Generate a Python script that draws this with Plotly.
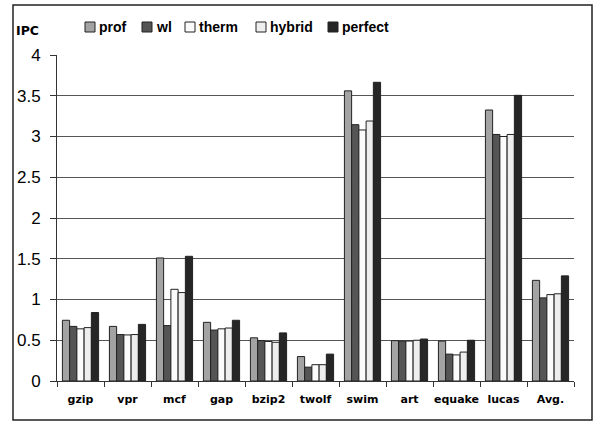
import plotly.graph_objects as go

# Benchmarks on the x axis
benchmarks = ["gzip", "vpr", "mcf", "gap", "bzip2", "twolf", "swim", "art", "equake", "lucas", "Avg."]

# IPC per scheme
prof = [0.745, 0.67, 1.51, 0.72, 0.53, 0.30, 3.56, 0.495, 0.49, 3.325, 1.235]
wl = [0.67, 0.57, 0.68, 0.625, 0.495, 0.17, 3.145, 0.49, 0.33, 3.025, 1.02]
therm = [0.64, 0.565, 1.125, 0.64, 0.485, 0.20, 3.08, 0.49, 0.32, 3.00, 1.06]
hybrid = [0.655, 0.57, 1.085, 0.65, 0.475, 0.20, 3.19, 0.50, 0.355, 3.025, 1.07]
perfect = [0.84, 0.695, 1.53, 0.745, 0.59, 0.33, 3.665, 0.515, 0.50, 3.505, 1.29]

series_names = ["prof", "wl", "therm", "hybrid", "perfect"]
series_values = [prof, wl, therm, hybrid, perfect]
series_colors = ["#a3a3a3", "#555555", "#fbfbfb", "#eeeeee", "#262626"]

W, H = 596, 422
ML, MR, MT, MB = 57, 22, 55, 41
PW, PH = W - ML - MR, H - MT - MB


def px_x(px):
    return (px - ML) / PW


def px_y(py):
    return (H - MB - py) / PH


fig = go.Figure()
for name, vals, col in zip(series_names, series_values, series_colors):
    fig.add_trace(go.Bar(
        name=name, x=benchmarks, y=vals,
        marker=dict(color=col, line=dict(color="#222222", width=1)),
        showlegend=False,
    ))

shapes = []
annotations = []

# outer frame
shapes.append(dict(type="rect", xref="paper", yref="paper",
                   x0=px_x(13), x1=px_x(592), y0=px_y(420), y1=px_y(5),
                   line=dict(color="#222222", width=1.5), fillcolor="rgba(0,0,0,0)"))

# legend row
legend_left = [85, 142, 185, 256, 328]
legend_y = px_y(27)
for name, col, lx in zip(series_names, series_colors, legend_left):
    shapes.append(dict(type="rect", xref="paper", yref="paper",
                       xsizemode="pixel", ysizemode="pixel",
                       xanchor=px_x(lx), yanchor=legend_y,
                       x0=0, x1=10, y0=-5, y1=5,
                       line=dict(color="#222222", width=1), fillcolor=col))
    annotations.append(dict(xref="paper", yref="paper", x=px_x(lx + 12), y=legend_y,
                            text="<b>%s</b>" % name, showarrow=False,
                            xanchor="left", yanchor="middle",
                            font=dict(family="Liberation Sans", size=14, color="#000")))

# y axis title
annotations.append(dict(xref="paper", yref="paper", x=px_x(14), y=px_y(31),
                        text="<b>IPC</b>", showarrow=False, xanchor="left", yanchor="middle",
                        font=dict(family="DejaVu Sans", size=12.5, color="#000")))

fig.update_layout(
    width=W, height=H,
    margin=dict(l=ML, r=MR, t=MT, b=MB),
    paper_bgcolor="white", plot_bgcolor="white",
    barmode="group", bargap=0.23, bargroupgap=0,
    shapes=shapes, annotations=annotations,
    xaxis=dict(
        type="category", tickson="boundaries", ticks="outside", ticklen=5,
        tickcolor="#333", showline=True, linecolor="#333", linewidth=1,
        showgrid=False, ticklabelstandoff=8, tickangle=0, automargin=False,
        tickfont=dict(family="DejaVu Sans", size=11, color="#000", weight="bold"),
    ),
    yaxis=dict(
        range=[0, 4], dtick=0.5, ticks="outside", ticklen=6, tickcolor="#333",
        showline=True, linecolor="#333", linewidth=1,
        showgrid=True, gridcolor="#555555", gridwidth=1, zeroline=False,
        ticklabelstandoff=6, automargin=False,
        tickfont=dict(family="Liberation Sans", size=17, color="#000"),
    ),
)

fig.write_html("out.html")
